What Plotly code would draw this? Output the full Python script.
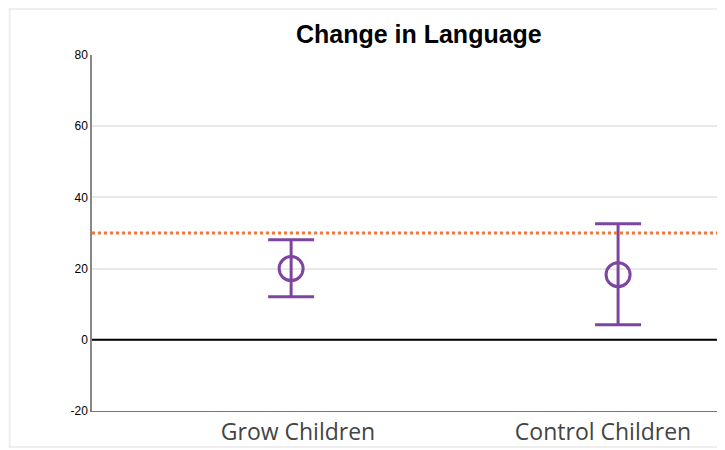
import plotly.graph_objects as go

groups = ["Grow Children", "Control Children"]
means = [20.0, 18.3]
upper = [28.1, 32.6]
lower = [12.1, 4.2]
reference_value = 30
y_ticks = [-20, 0, 20, 40, 60, 80]

err_plus = [u - m for u, m in zip(upper, means)]
err_minus = [m - l for m, l in zip(means, lower)]

purple = "#7E45A0"

fig = go.Figure()
fig.add_trace(go.Scatter(
    x=[0, 1], y=means, mode="markers",
    marker=dict(symbol="circle-open", size=24, color=purple, line=dict(width=3, color=purple)),
    error_y=dict(type="data", symmetric=False, array=err_plus, arrayminus=err_minus,
                 color=purple, thickness=3, width=23),
    showlegend=False,
))

fig.add_hline(y=reference_value, line=dict(color="#F2773A", width=3, dash="dot"))
fig.add_hline(y=0, line=dict(color="black", width=2))

# light frame around the image
fig.add_shape(type="rect", xref="paper", yref="paper", x0=-0.13, x1=1.2, y0=-0.101, y1=1.129,
              line=dict(color="#EEEEEE", width=2), layer="below")

fig.update_layout(
    width=717, height=442,
    margin=dict(l=84, r=0, t=47, b=39),
    plot_bgcolor="white", paper_bgcolor="white",
    title=dict(text="<b>Change in Language</b>", xref="container", x=0.573, xanchor="center",
               y=0.94, yanchor="middle",
               font=dict(family="Liberation Sans, Arial", size=25, color="black")),
    xaxis=dict(range=[-0.609, 1.327], tickvals=[0.021, 0.954], ticktext=groups, showgrid=False,
               zeroline=False, showline=True, linecolor="#777777", linewidth=1, ticks="",
               tickfont=dict(family="Open Sans", size=23, color="#444444")),
    yaxis=dict(range=[-20, 80], tickvals=y_ticks, ticktext=[str(v) for v in y_ticks],
               showgrid=True, gridcolor="#E8E8E8", gridwidth=1.5, zeroline=False, showline=True,
               linecolor="#888888", linewidth=1.5, ticks="",
               tickfont=dict(family="Liberation Sans, Arial", size=12, color="black")),
)

fig.write_html("out.html")
